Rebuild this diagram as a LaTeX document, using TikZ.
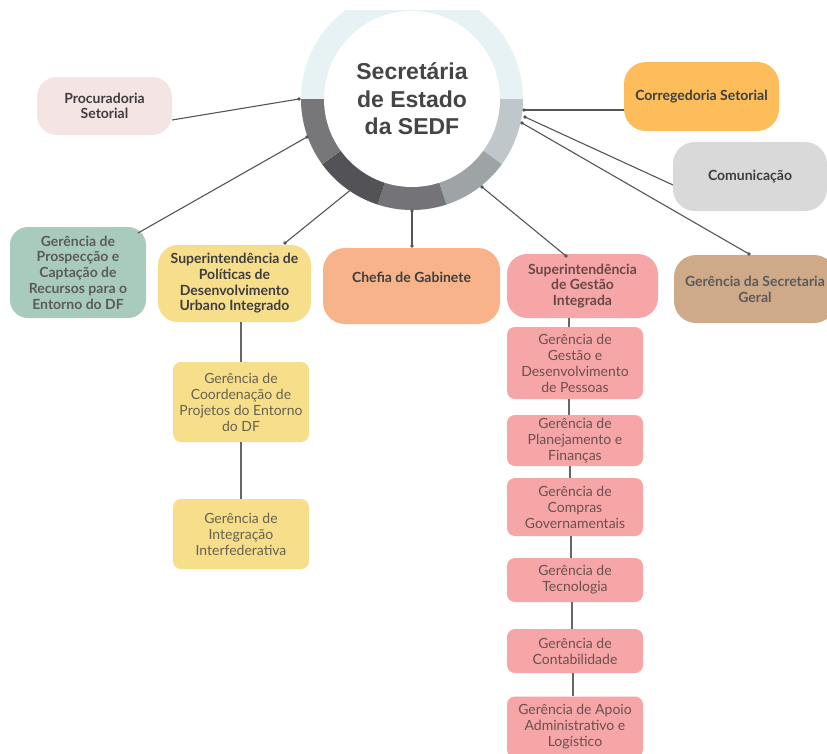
\documentclass[tikz,border=0pt]{standalone}
\usepackage{fontspec}
\setmainfont{Lato}
\newfontfamily\titlefont{Liberation Sans}
\usetikzlibrary{calc}
\definecolor{ringtop}{HTML}{E7F2F4}
\definecolor{segA}{HTML}{77777A}
\definecolor{segB}{HTML}{535357}
\definecolor{segC}{HTML}{747478}
\definecolor{segD}{HTML}{9EA3A6}
\definecolor{segE}{HTML}{BFC7CA}
\definecolor{titlecol}{HTML}{454545}
\definecolor{procfill}{HTML}{F4E4E4}
\definecolor{prospfill}{HTML}{A9CBBD}
\definecolor{yellowfill}{HTML}{F7DE8B}
\definecolor{chefiafill}{HTML}{F9B38A}
\definecolor{pinkfill}{HTML}{F6A6A6}
\definecolor{gsgfill}{HTML}{CEAA88}
\definecolor{corrfill}{HTML}{FDBD5B}
\definecolor{comfill}{HTML}{D9D9D9}
\definecolor{linecol}{HTML}{555555}
\definecolor{boldtext}{HTML}{3E3E3E}
\definecolor{pinktext}{HTML}{6A5050}
\definecolor{yellowtext}{HTML}{66624F}
\definecolor{sgitext}{HTML}{6A4848}
\begin{document}
\begin{tikzpicture}[x=1pt,y=-1pt,
  bigbox/.style={rounded corners=20pt, inner sep=0pt, align=center,
    font=\fontsize{14}{15.7}\selectfont\bfseries, text=boldtext},
  subbox/.style={rounded corners=8pt, inner sep=0pt, align=center,
    minimum width=136pt, font=\fontsize{14}{16}\selectfont},
  conn/.style={draw=linecol, line width=1.1pt},
  vline/.style={draw=linecol!90, line width=1.1pt},
  dotmark/.style={fill=linecol}]
\useasboundingbox (0,0) rectangle (827,753);
\fill[white] (0,0) rectangle (827,753);

% ring
\begin{scope}
\clip (0,10) rectangle (827,753);
\fill[ringtop] (412,99) circle[radius=111];
\fill[segE] (412,99) -- ++(0:111) arc[start angle=0,end angle=36,radius=111] -- cycle;
\fill[segD] (412,99) -- ++(36:111) arc[start angle=36,end angle=72,radius=111] -- cycle;
\fill[segC] (412,99) -- ++(72:111) arc[start angle=72,end angle=108,radius=111] -- cycle;
\fill[segB] (412,99) -- ++(108:111) arc[start angle=108,end angle=144,radius=111] -- cycle;
\fill[segA] (412,99) -- ++(144:111) arc[start angle=144,end angle=180,radius=111] -- cycle;
\fill[white] (412,99) circle[radius=88];
\end{scope}
\node[font=\titlefont\fontsize{23}{27.5}\selectfont\bfseries, text=titlecol, align=center] (sec) at (412,99) {Secretária\\de Estado\\da SEDF};

% top-level boxes
\node[bigbox, fill=procfill, minimum width=135pt, minimum height=58pt] (proc) at (104.5,106) {Procuradoria\\Setorial};
\node[bigbox, fill=prospfill, rounded corners=18pt, minimum width=136pt, minimum height=91pt, text=boldtext!85] (prosp) at (78,272.5) {Gerência de\\Prospecção e\\Captação de\\Recursos para o\\Entorno do DF};
\node[bigbox, fill=yellowfill, minimum width=153pt, minimum height=77pt] (suppol) at (234.5,283.5) {Superintendência de\\Políticas de\\Desenvolvimento\\Urbano Integrado};
\node[bigbox, fill=chefiafill, rounded corners=22pt, minimum width=177pt, minimum height=76pt] (chefia) at (411.5,286) {\raisebox{4pt}[0pt][0pt]{Chefia de Gabinete}};
\node[bigbox, fill=pinkfill, minimum width=151pt, minimum height=64pt, text=sgitext] (sgi) at (582.5,286) {Superintendência\\de Gestão\\Integrada};
\node[bigbox, fill=gsgfill, rounded corners=22pt, minimum width=162pt, minimum height=68pt, text=boldtext!85] (gsg) at (755,289) {Gerência da Secretaria\\Geral};
\node[bigbox, fill=corrfill, rounded corners=22pt, minimum width=155pt, minimum height=69pt] (corr) at (701.5,96.5) {Corregedoria Setorial};
\node[bigbox, fill=comfill, rounded corners=22pt, minimum width=154pt, minimum height=69pt] (com) at (750,176.5) {Comunicação};

% yellow column
\node[subbox, fill=yellowfill, minimum height=80pt, text=yellowtext] (gcoord) at (241,402) {Gerência de\\Coordenação de\\Projetos do Entorno\\do DF};
\node[subbox, fill=yellowfill, minimum height=70pt, text=yellowtext] (ginteg) at (241,534) {Gerência de\\Integração\\Interfederativa};

% pink column
\node[subbox, fill=pinkfill, minimum height=72pt, text=pinktext] (g1) at (575,363) {Gerência de\\Gestão e\\Desenvolvimento\\de Pessoas};
\node[subbox, fill=pinkfill, minimum height=51pt, text=pinktext] (g2) at (575,440.5) {Gerência de\\Planejamento e\\Finanças};
\node[subbox, fill=pinkfill, minimum height=58pt, text=pinktext] (g3) at (575,507) {Gerência de\\Compras\\Governamentais};
\node[subbox, fill=pinkfill, minimum height=44pt, text=pinktext] (g4) at (575,580) {Gerência de\\Tecnologia};
\node[subbox, fill=pinkfill, minimum height=44pt, text=pinktext] (g5) at (575,651) {Gerência de\\Contabilidade};
\node[subbox, fill=pinkfill, minimum height=61pt, text=pinktext] (g6) at (575,727) {Gerência de Apoio\\Administrativo e\\Logístico};

% connector end points
\coordinate (cProc) at (299,99);
\coordinate (cProsp) at (307,137);
\coordinate (cSup) at (353,188);
\coordinate (cChef) at (412,211);
\coordinate (cSgi) at (482,187);
\coordinate (cGsg) at (522,123);
\coordinate (cCorr) at (524,110);
\coordinate (cCom) at (525,117);
\coordinate (procOut) at (172,120);
\coordinate (prospOut) at (138,233);
\coordinate (supIn) at (285,243);
\coordinate (chefIn) at (412,246);
\coordinate (sgiIn) at (566,256);
\coordinate (gsgIn) at (749,254);
\coordinate (corrOut) at (624,110);
\coordinate (comOut) at (673,185);

\draw[conn] (procOut) -- (cProc);
\draw[conn] (prospOut) -- (cProsp);
\draw[conn] (supIn) -- (cSup);
\draw[conn] (chefIn) -- (cChef);
\draw[conn] (sgiIn) -- (cSgi);
\draw[conn] (gsgIn) -- (cGsg);
\draw[conn] (corrOut) -- (cCorr);
\draw[conn] (comOut) -- (cCom);
\foreach \p in {cProc,cProsp,cSup,cChef,cSgi,cGsg,cCorr,cCom,supIn,chefIn,sgiIn,gsgIn}
  \fill[dotmark] (\p) circle[radius=1.8];

% vertical column lines
\draw[vline] (suppol.south -| gcoord.north) -- (gcoord.north);
\draw[vline] (gcoord.south) -- (ginteg.north);
\draw[vline] ([xshift=-6pt]g1.north |- sgi.south) -- ([xshift=-6pt]g1.north);
\draw[vline] ([xshift=-6pt]g1.south) -- ([xshift=-6pt]g2.north);
\draw[vline] ([xshift=-5pt]g2.south) -- ([xshift=-5pt]g3.north);
\draw[vline] ([xshift=-4pt]g3.south) -- ([xshift=-4pt]g4.north);
\draw[vline] ([xshift=-3pt]g4.south) -- ([xshift=-3pt]g5.north);
\draw[vline] ([xshift=-2pt]g5.south) -- ([xshift=-2pt]g6.north);
\end{tikzpicture}
\end{document}
